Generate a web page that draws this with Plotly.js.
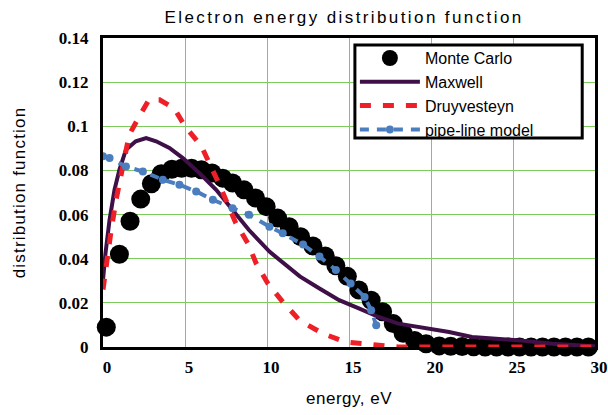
<!DOCTYPE html>
<html>
<head>
<meta charset="utf-8">
<script src="https://cdn.plot.ly/plotly-3.0.1.min.js"></script>
<style>
html,body{margin:0;padding:0;background:#fff;}
#chart{width:608px;height:415px;}
.gtitle{letter-spacing:2.4px;}
.ytitle{letter-spacing:1.2px;}
.xtitle{letter-spacing:0.5px;}
</style>
</head>
<body>
<div id="chart"></div>
<script>
// Monte Carlo
const mcX = [0.2,1.0,1.65,2.3,2.95,3.55,4.2,4.8,5.4,6.0,6.65,7.3,7.9,8.6,9.3,9.95,10.65,11.35,12.05,12.8,13.55,14.2,14.9,15.6,16.35,17.05,17.7,18.3,19.0,19.7,20.5,21.2,21.9,22.6,23.3,24.0,24.7,25.4,26.1,26.8,27.5,28.2,28.9,29.6];
const mcY = [0.009,0.042,0.057,0.067,0.074,0.0785,0.0805,0.081,0.081,0.0803,0.0788,0.0765,0.0743,0.0712,0.0675,0.0636,0.0584,0.0545,0.05,0.0458,0.0412,0.0368,0.032,0.0258,0.0212,0.016,0.0106,0.0062,0.003,0.0015,0.0005,0.0003,0.0002,0.0001,0,0,0,0,0,0,0,0,0,0];
// Maxwell
const mxX = [0,0.15,0.4,0.7,1.0,1.4,2.0,2.63,3.24,4.05,4.87,5.88,6.9,7.9,8.9,10.15,11.37,12.0,13.2,14.4,15.6,16.8,18.0,19.7,21.1,22.5,24.2,25.4,27.4,30];
const mxY = [0.0303,0.0424,0.0576,0.0712,0.0803,0.0894,0.0932,0.0947,0.0932,0.0902,0.0856,0.0788,0.0712,0.0621,0.053,0.0432,0.0356,0.032,0.0265,0.0212,0.0175,0.0136,0.0106,0.0084,0.0068,0.0045,0.0038,0.003,0.0015,0.0003];
// Druyvesteyn
const drX = [0,0.2,0.5,0.8,1.1,1.3,1.6,2.1,2.8,3.45,4.35,5.0,6.0,7.1,8.1,8.83,9.34,10.05,10.96,11.98,13.4,14.8,16.55,18,20,22,24,26,28,30];
const drY = [0.026,0.038,0.053,0.0667,0.0788,0.0871,0.0962,0.103,0.112,0.112,0.108,0.1,0.091,0.0735,0.0561,0.047,0.0379,0.0288,0.0205,0.0121,0.0061,0.0022,0.0008,0,0,0,0,0,0,0];
// pipe-line model
const plX = [0,0.4,1.4,2.43,3.65,4.66,5.68,6.7,7.9,8.9,10.15,10.96,12.2,13.2,14.2,15.1,15.95,16.35,16.66];
const plY = [0.0864,0.0856,0.0818,0.0795,0.0758,0.0735,0.0705,0.0667,0.0629,0.0599,0.0545,0.0515,0.0464,0.041,0.0349,0.0288,0.0227,0.0167,0.0099];
// ticks
const yTickVals = [0,0.02,0.04,0.06,0.08,0.1,0.12,0.14];
const yTickText = ["0","0.02","0.04","0.06","0.08","0.1","0.12","0.14"];
const xTickVals = [0,5,10,15,20,25,30];

const traces = [
  {x: mcX, y: mcY, name: 'Monte Carlo', mode: 'markers', cliponaxis: false,
   marker: {color: '#000000', size: 19}},
  {x: mxX, y: mxY, name: 'Maxwell', mode: 'lines',
   line: {color: '#3f0f48', width: 4}},
  {x: drX, y: drY, name: 'Druyvesteyn', mode: 'lines',
   line: {color: '#ee1f26', width: 5, dash: '11px,12px'}},
  {x: plX, y: plY, name: 'pipe-line model', mode: 'lines+markers',
   line: {color: '#4a7ebf', width: 4, dash: '9px,8px'},
   marker: {color: '#4a7ebf', size: 8}}
];

const tickFont = {family: 'Liberation Serif, Times New Roman, serif', size: 17, color: '#000', weight: 'bold'};
const sansFont = 'Liberation Sans, Arial, sans-serif';
const layout = {
  width: 608, height: 415,
  margin: {l: 103, r: 13, t: 38, b: 68},
  paper_bgcolor: '#fff', plot_bgcolor: '#fff',
  font: {family: sansFont, size: 14, color: '#000'},
  title: {text: 'Electron energy distribution function', x: 0.49, xref: 'paper', xanchor: 'center',
          y: 0.958, yref: 'container', yanchor: 'middle',
          font: {family: sansFont, size: 17, color: '#000'}},
  xaxis: {range: [0, 30], tickvals: xTickVals, ticks: '', tickfont: tickFont,
          ticklabelshift: 4, ticklabelstandoff: 3,
          showgrid: true, gridcolor: '#7ccb5c', gridwidth: 1, zeroline: false,
          showline: true, linecolor: '#000', linewidth: 3, mirror: true,
          title: {text: 'energy, eV', standoff: 16, font: {family: sansFont, size: 17}}},
  yaxis: {range: [0, 0.14], tickvals: yTickVals, ticktext: yTickText, ticks: '', tickfont: tickFont,
          ticklabelstandoff: 8,
          showgrid: true, gridcolor: '#7ccb5c', gridwidth: 1, zeroline: false,
          showline: true, linecolor: '#000', linewidth: 3, mirror: true,
          title: {text: 'distribution function', standoff: 29, font: {family: sansFont, size: 17}}},
  shapes: [
    {type: 'rect', xref: 'paper', yref: 'paper', x0: 0.512, x1: 0.974, y0: 0.676, y1: 0.977,
     fillcolor: '#ffffff', line: {color: '#000', width: 3}, layer: 'above'}
  ],
  showlegend: true,
  legend: {x: 0.512, y: 0.99, xanchor: 'left', yanchor: 'top', bgcolor: 'rgba(0,0,0,0)',
           borderwidth: 0,
           font: {family: sansFont, size: 16, color: '#000'},
           tracegroupgap: 0, itemwidth: 60}
};
Plotly.newPlot('chart', traces, layout, {displayModeBar: false, staticPlot: true});
</script>
</body>
</html>
